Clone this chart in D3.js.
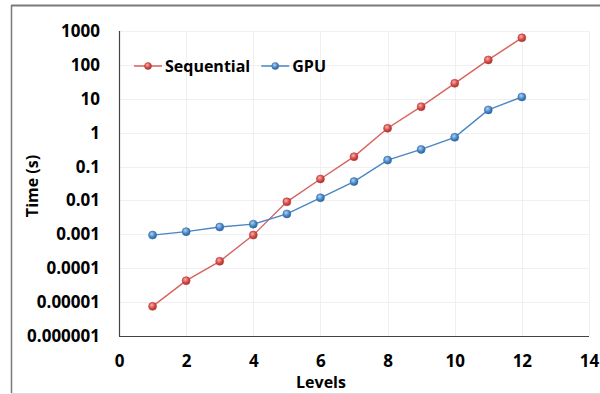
<!DOCTYPE html>
<html>
<head>
<meta charset="utf-8">
<script src="https://cdn.jsdelivr.net/npm/d3@7"></script>
<style>
  body { margin: 0; background: #fff; }
  svg { display: block; font-family: "Open Sans", sans-serif; font-weight: bold; }
</style>
</head>
<body>
<div id="chart"></div>
<script>
// data
const levels = [1, 2, 3, 4, 5, 6, 7, 8, 9, 10, 11, 12];
const sequential = [0.0000075, 0.000043, 0.00016, 0.00095, 0.0091, 0.043, 0.196, 1.35, 5.85, 28.6, 140, 630];
const gpu = [0.00095, 0.0012, 0.00165, 0.002, 0.004, 0.012, 0.036, 0.155, 0.32, 0.73, 4.7, 11.3];
const xTicks = [0, 2, 4, 6, 8, 10, 12, 14];
const yTicks = [1e-6, 1e-5, 1e-4, 1e-3, 1e-2, 0.1, 1, 10, 100, 1000];
const yTickLabels = ['0.000001', '0.00001', '0.0001', '0.001', '0.01', '0.1', '1', '10', '100', '1000'];
const seriesNames = ['Sequential', 'GPU'];

// layout
const WIDTH = 600;
const HEIGHT = 394;
const PLOT = {left: 119, right: 589, top: 31, bottom: 336};

const RED_LINE = '#d9625f';
const BLUE_LINE = '#4a86c5';

const svg = d3.select('#chart')
    .append('svg')
    .attr('width', WIDTH)
    .attr('height', HEIGHT)
;

// グラデーション（マーカーの立体感）
const defs = svg.append('defs');
function addGrad(id, light, mid, dark) {
    const g = defs.append('radialGradient')
        .attr('id', id)
        .attr('cx', '40%').attr('cy', '35%').attr('r', '65%')
    ;
    g.append('stop').attr('offset', '0%').attr('stop-color', light);
    g.append('stop').attr('offset', '55%').attr('stop-color', mid);
    g.append('stop').attr('offset', '100%').attr('stop-color', dark);
}
addGrad('gradRed', '#f7b3b1', '#d9504c', '#a8302c');
addGrad('gradBlue', '#b3d2f2', '#4f8ccc', '#2c5f97');

// 外枠
svg.append('line')
    .attr('x1', 11).attr('x2', WIDTH).attr('y1', 5.5).attr('y2', 5.5)
    .attr('stroke', '#7a7a7a').attr('stroke-width', 2)
;
svg.append('line')
    .attr('x1', 11.5).attr('x2', 11.5).attr('y1', 5).attr('y2', 393)
    .attr('stroke', '#7a7a7a').attr('stroke-width', 1.5)
;
svg.append('line')
    .attr('x1', 11).attr('x2', WIDTH).attr('y1', 393.5).attr('y2', 393.5)
    .attr('stroke', '#dddddd').attr('stroke-width', 1)
;

// scales
const x = d3.scaleLinear().domain([0, 14]).range([PLOT.left, PLOT.right]);
const y = d3.scaleLog().domain([1e-6, 1000]).range([PLOT.bottom, PLOT.top]);

// grid
const grid = svg.append('g')
    .attr('stroke', '#f0f0f0')
    .attr('stroke-width', 1)
;
yTicks.forEach(v => {
    grid.append('line')
        .attr('x1', PLOT.left).attr('x2', PLOT.right)
        .attr('y1', Math.round(y(v)) + 0.5).attr('y2', Math.round(y(v)) + 0.5)
    ;
});
xTicks.forEach(v => {
    grid.append('line')
        .attr('x1', Math.round(x(v)) + 0.5).attr('x2', Math.round(x(v)) + 0.5)
        .attr('y1', PLOT.top).attr('y2', PLOT.bottom)
    ;
});

// axes
const xAxis = svg.append('g')
    .attr('transform', `translate(0,${PLOT.bottom})`)
    .call(d3.axisBottom(x).tickValues(xTicks).tickSize(0).tickPadding(19))
;
const yAxis = svg.append('g')
    .attr('transform', `translate(${PLOT.left},0)`)
    .call(d3.axisLeft(y).tickValues(yTicks).tickFormat((d, i) => yTickLabels[i]).tickSize(0).tickPadding(19))
;
[xAxis, yAxis].forEach(a => {
    a.select('.domain').attr('stroke', '#444').attr('stroke-width', 1.2);
    a.selectAll('text')
        .attr('fill', '#000')
        .style('font-family', '"Open Sans", sans-serif')
        .style('font-weight', 'bold')
        .style('font-size', '17px')
    ;
});
xAxis.select('.domain').attr('d', `M${PLOT.left},0.5H${PLOT.right}`);
yAxis.select('.domain').attr('d', `M0.5,${PLOT.bottom}V${PLOT.top}`);

// axis titles
svg.append('text')
    .text('Levels')
    .attr('x', 321)
    .attr('y', 388)
    .attr('text-anchor', 'middle')
    .attr('font-size', 16)
;
svg.append('text')
    .text('Time (s)')
    .attr('transform', 'translate(38,186) rotate(-90)')
    .attr('text-anchor', 'middle')
    .attr('font-size', 16)
;

// series
const series = [
    {name: seriesNames[0], values: sequential, color: RED_LINE, grad: 'url(#gradRed)', stroke: '#b8423f'},
    {name: seriesNames[1], values: gpu, color: BLUE_LINE, grad: 'url(#gradBlue)', stroke: '#386ea8'}
];
const line = d3.line()
    .x((d, i) => x(levels[i]))
    .y(d => y(d))
;
series.forEach(s => {
    svg.append('path')
        .datum(s.values)
        .attr('d', line)
        .attr('fill', 'none')
        .attr('stroke', s.color)
        .attr('stroke-width', 1.4)
    ;
    svg.append('g')
        .selectAll('circle')
        .data(s.values)
        .join('circle')
        .attr('cx', (d, i) => x(levels[i]))
        .attr('cy', d => y(d))
        .attr('r', 4)
        .attr('fill', s.grad)
        .attr('stroke', s.stroke)
        .attr('stroke-width', 0.6)
    ;
});

// legend
const legend = svg.append('g')
    .attr('transform', 'translate(134,66)')
;
let lx = 0;
series.forEach(s => {
    const g = legend.append('g').attr('transform', `translate(${lx},0)`);
    g.append('line')
        .attr('x1', 0).attr('x2', 28)
        .attr('y1', 0).attr('y2', 0)
        .attr('stroke', s.color)
        .attr('stroke-width', 1.5)
    ;
    g.append('circle')
        .attr('cx', 14).attr('cy', 0).attr('r', 3.5)
        .attr('fill', s.grad)
        .attr('stroke', s.stroke)
        .attr('stroke-width', 0.6)
    ;
    const t = g.append('text')
        .text(s.name)
        .attr('x', 31)
        .attr('y', 6)
        .attr('font-size', 16)
    ;
    lx += 31 + t.node().getComputedTextLength() + 11;
});
</script>
</body>
</html>
